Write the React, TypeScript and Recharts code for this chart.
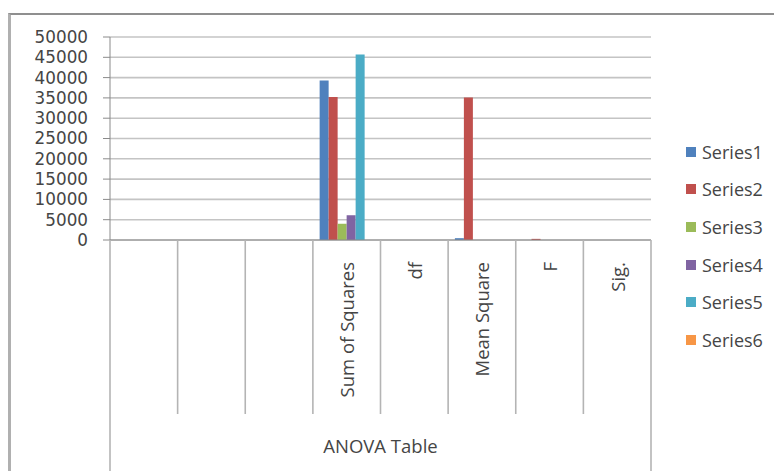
import React from 'react';
import { BarChart, Bar, XAxis, YAxis, CartesianGrid } from 'recharts';

const categories = ['', '', '', 'Sum of Squares', 'df', 'Mean Square', 'F', 'Sig.'];
const series1 = [0, 0, 0, 39300, 0, 450, 0, 0];
const series2 = [0, 0, 0, 35200, 0, 35100, 280, 0];
const series3 = [0, 0, 0, 4000, 0, 0, 0, 0];
const series4 = [0, 0, 0, 6100, 0, 0, 0, 0];
const series5 = [0, 0, 0, 45700, 0, 0, 0, 0];
const series6 = [0, 0, 0, 0, 0, 0, 0, 0];
const seriesNames = ['Series1', 'Series2', 'Series3', 'Series4', 'Series5', 'Series6'];
const seriesColors = ['#4F81BD', '#C0504D', '#9BBB59', '#8064A2', '#4BACC6', '#F79646'];
const yTicks = [0, 5000, 10000, 15000, 20000, 25000, 30000, 35000, 40000, 45000, 50000];
const groupLabel = 'ANOVA Table';

const allSeries = [series1, series2, series3, series4, series5, series6];
const data = categories.map((cat, i) => {
  const row: Record<string, any> = { cat };
  seriesNames.forEach((name, s) => {
    row[name] = allSeries[s][i];
  });
  return row;
});

const FONT = '"Open Sans", "Liberation Sans", sans-serif';
const NUM_FONT = '"DejaVu Sans", "Open Sans", sans-serif';
const TEXT = '#454545';
const LINE = '#b4b4b4';

const CatTick = (props: any) => {
  const { x, y, payload, index, width, visibleTicksCount, height } = props;
  const band = width / visibleTicksCount;
  const left = x - band / 2;
  const right = x + band / 2;
  const isFirst = index === 0;
  const isLast = index === visibleTicksCount - 1;
  const innerBottom = y + 174;
  const outerBottom = y + height;
  return (
    <g>
      <line x1={left} y1={y} x2={left} y2={isFirst ? outerBottom : innerBottom} stroke={LINE} strokeWidth={1.6} />
      {isLast && (
        <line x1={right} y1={y} x2={right} y2={outerBottom} stroke={LINE} strokeWidth={1.6} />
      )}
      {payload.value ? (
        <text
          x={x}
          y={y + 22}
          transform={`rotate(-90 ${x} ${y + 22})`}
          textAnchor="end"
          dominantBaseline="central"
          fontFamily={FONT}
          fontSize={18.5}
          fill={TEXT}
        >
          {payload.value}
        </text>
      ) : null}
    </g>
  );
};

const LegendBox = () => (
  <div style={{ position: 'absolute', left: 686, top: 133, width: 88, fontFamily: FONT, fontSize: 18, color: TEXT }}>
    {seriesNames.map((name, i) => (
      <div key={name} style={{ height: 37.6, display: 'flex', alignItems: 'center', whiteSpace: 'nowrap' }}>
        <span style={{ display: 'inline-block', width: 10, height: 10, background: seriesColors[i], marginRight: 6 }} />
        <span>{name}</span>
      </div>
    ))}
  </div>
);

export default function App() {
  return (
    <div style={{ position: 'absolute', left: 0, top: 0, width: 774, height: 471, background: '#fff', overflow: 'hidden' }}>
      <div
        style={{
          position: 'absolute',
          left: 8,
          top: 13,
          width: 800,
          height: 500,
          borderTop: '2px solid #8f8f8f',
          borderLeft: '3px solid #b0b0b0',
        }}
      />
      <BarChart
        width={774}
        height={471}
        data={data}
        margin={{ top: 37, right: 123, bottom: 0, left: 0 }}
        barCategoryGap="10%"
        barGap={0}
      >
        <CartesianGrid horizontal vertical={false} stroke="#c4c4c4" strokeWidth={1.6} />
        <YAxis
          width={110}
          domain={[0, 50000]}
          ticks={yTicks}
          interval={0}
          tickSize={7}
          tickMargin={15}
          axisLine={{ stroke: '#8a8a8a' }}
          tickLine={{ stroke: '#8a8a8a' }}
          tick={{ fill: TEXT, fontSize: 16.8, fontFamily: NUM_FONT }}
        />
        <XAxis
          dataKey="cat"
          height={231}
          interval={0}
          tickSize={0}
          tickMargin={0}
          tickLine={false}
          axisLine={{ stroke: '#8a8a8a' }}
          tick={<CatTick />}
          label={{ value: groupLabel, position: 'insideBottom', offset: 18, fill: TEXT, fontSize: 18.5, fontFamily: FONT }}
        />
        {seriesNames.map((name, i) => (
          <Bar key={name} dataKey={name} fill={seriesColors[i]} isAnimationActive={false} />
        ))}
      </BarChart>
      <LegendBox />
    </div>
  );
}
